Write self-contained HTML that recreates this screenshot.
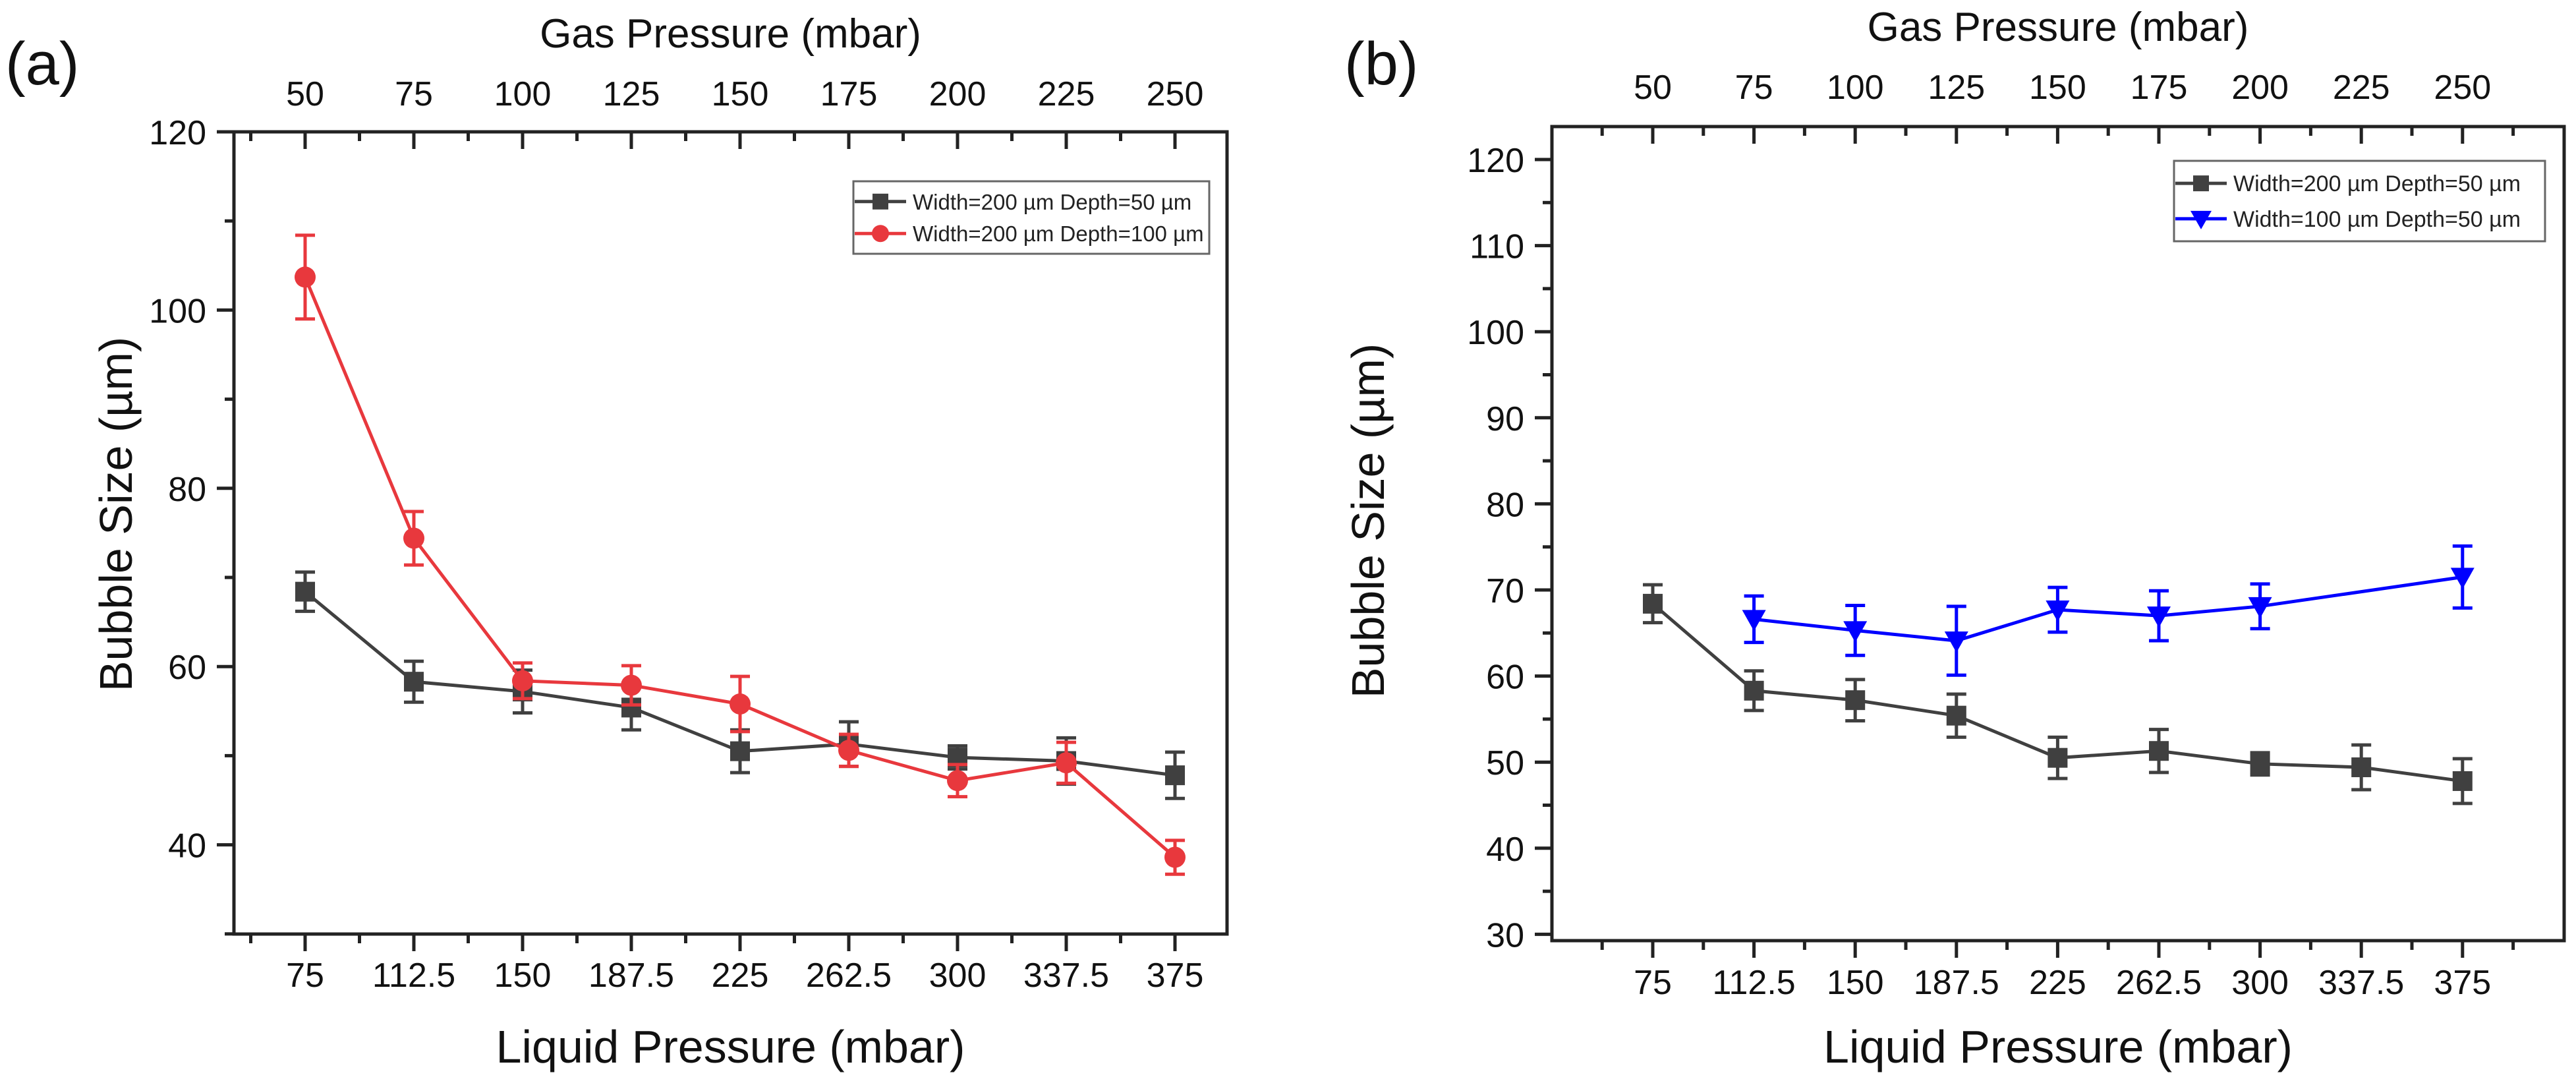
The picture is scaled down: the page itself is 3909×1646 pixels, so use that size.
<!DOCTYPE html>
<html><head><meta charset="utf-8"><style>
html,body{margin:0;padding:0;background:#fff;}
svg{display:block;font-family:"Liberation Sans",Arial,sans-serif;}
</style></head><body>
<svg id="fig" width="3909" height="1646" viewBox="0 0 3909 1646" xmlns="http://www.w3.org/2000/svg">
<text x="8" y="128" font-size="92" fill="#111">(a)</text>
<text x="2040" y="128" font-size="92" fill="#111">(b)</text>
</svg>
<script>
const liquidLabels = ["75","112.5","150","187.5","225","262.5","300","337.5","375"];
const gasLabels = ["50","75","100","125","150","175","200","225","250"];
const grayVals = [68.4,58.3,57.2,55.4,50.5,51.3,49.8,49.4,47.8];
const grayErr = [2.2,2.3,2.4,2.5,2.4,2.5,1.3,2.6,2.6];
const redVals = [103.7,74.4,58.4,57.9,55.8,50.6,47.2,49.2,38.6];
const redErr = [4.7,3.0,2.0,2.2,3.1,1.8,1.8,2.3,1.9];
const blueVals = [null,66.6,65.3,64.1,67.7,67.0,68.1,null,71.5];
const blueErr = [null,2.7,2.9,4.0,2.6,2.9,2.6,null,3.6];
const yTicksA = [40,60,80,100,120];
const yTicksB = [30,40,50,60,70,80,90,100,110,120];

const NS="http://www.w3.org/2000/svg";
const svg=document.getElementById('fig');
function mk(tag,attrs,parent){const e=document.createElementNS(NS,tag);for(const k in attrs)e.setAttribute(k,attrs[k]);(parent||svg).appendChild(e);return e;}

function panel(cfg){
  const g=mk('g',{});
  
  
  const X=i=>cfg.x0+cfg.dx*i;
  const Y=v=>cfg.yTop+(cfg.yMaxV-v)*cfg.ppu;
  const L=cfg.left,R=cfg.right,T=cfg.top,B=cfg.bottom;
  const ax=mk('rect',{x:L,y:T,width:R-L,height:B-T,fill:'none',stroke:'#222','stroke-width':5},g);
  
  
  for(let k=-1;k<=17;k++){
    const i=k/2, x=X(i);
    if(x<L+5||x>R-5)continue;
    const major=k%2===0;
    const len=major?26:14;
    mk('line',{x1:x,y1:B,x2:x,y2:B+len,stroke:'#222','stroke-width':5},g);
    mk('line',{x1:x,y1:T,x2:x,y2:T+len,stroke:'#222','stroke-width':5},g);
  }
  liquidLabels.forEach((s,i)=>{
    const t=mk('text',{x:X(i),y:cfg.botLblY,'font-size':52,'text-anchor':'middle',fill:'#111'},g);
    t.textContent=s;
    
    
  });
  gasLabels.forEach((s,i)=>{
    const t=mk('text',{x:X(i),y:cfg.topLblY,'font-size':52,'text-anchor':'middle',fill:'#111'},g);
    t.textContent=s;
    
    
  });
  for(let v=cfg.minorStart;v<=cfg.yMaxTick;v+=cfg.minorStep){
    const y=Y(v); if(y>B+2||y<T-2)continue;
    const major=cfg.yTicks.includes(v);
    mk('line',{x1:L,y1:y,x2:L-(major?26:14),y2:y,stroke:'#222','stroke-width':5},g);
  }
  cfg.yTicks.forEach(v=>{
    const t=mk('text',{x:L-42,y:Y(v)+19,'font-size':52,'text-anchor':'end',fill:'#111'},g);
    t.textContent=String(v);
    
    
  });
  const xt=mk('text',{x:(L+R)/2,y:1612,'font-size':70,'text-anchor':'middle',fill:'#111'},g);
  xt.textContent='Liquid Pressure (mbar)';
  
  
  const gt=mk('text',{x:(L+R)/2,y:cfg.gasTitleY,'font-size':62,'text-anchor':'middle',fill:'#111'},g);
  gt.textContent='Gas Pressure (mbar)';
  
  
  const yt=mk('text',{x:0,y:0,'font-size':70,'text-anchor':'middle',fill:'#111',transform:`translate(${cfg.yTitleX},${cfg.yTitleY}) rotate(-90)`},g);
  yt.textContent='Bubble Size (µm)';
  
  
  cfg.series.forEach(s=>{
    const sg=mk('g',{},g);
    
    
    let d='';
    s.vals.forEach((v,i)=>{if(v==null)return;d+=(d?'L':'M')+X(i)+' '+Y(v);});
    mk('path',{d:d,fill:'none',stroke:s.color,'stroke-width':5},sg);
    s.vals.forEach((v,i)=>{
      if(v==null)return;
      const x=X(i),e=s.err[i];
      mk('line',{x1:x,y1:Y(v+e),x2:x,y2:Y(v-e),stroke:s.color,'stroke-width':5},sg);
      mk('line',{x1:x-15,y1:Y(v+e),x2:x+15,y2:Y(v+e),stroke:s.color,'stroke-width':5},sg);
      mk('line',{x1:x-15,y1:Y(v-e),x2:x+15,y2:Y(v-e),stroke:s.color,'stroke-width':5},sg);
      let m;
      if(s.marker==='square')m=mk('rect',{x:x-15,y:Y(v)-15,width:30,height:30,fill:s.color},sg);
      else if(s.marker==='circle')m=mk('circle',{cx:x,cy:Y(v),r:16,fill:s.color},sg);
      else m=mk('polygon',{points:`${x-18},${Y(v)-14} ${x+18},${Y(v)-14} ${x},${Y(v)+18}`,fill:s.color},sg);
      
      
    });
  });
  const lg=mk('g',{},g);
  
  
  const lb=cfg.legend;
  mk('rect',{x:lb.x,y:lb.y,width:lb.w,height:lb.h,fill:'#fff',stroke:'#666','stroke-width':3},lg);
  cfg.series.forEach((s,k)=>{
    const cy=lb.y+lb.h*(k===0?0.28:0.72);
    const e=mk('g',{},lg);
    
    
    mk('line',{x1:lb.x+2,y1:cy,x2:lb.x+80,y2:cy,stroke:s.color,'stroke-width':5},e);
    const cx=lb.x+41;
    if(s.marker==='square')mk('rect',{x:cx-12,y:cy-12,width:24,height:24,fill:s.color},e);
    else if(s.marker==='circle')mk('circle',{cx:cx,cy:cy,r:13,fill:s.color},e);
    else mk('polygon',{points:`${cx-16},${cy-12} ${cx+16},${cy-12} ${cx},${cy+16}`,fill:s.color},e);
    const t=mk('text',{x:lb.x+90,y:cy+12,'font-size':lb.fs,fill:'#222'},e);
    t.textContent=s.label;
  });
}

panel({name:'panel-a',left:355,right:1862,top:200,bottom:1417,x0:463,dx:165,
  yTop:200,yMaxV:120,ppu:13.52,yTicks:yTicksA,minorStart:30,minorStep:10,yMaxTick:120,
  botLblY:1497,topLblY:160,gasTitleY:72,yTitleX:200,yTitleY:780,
  legend:{x:1295,y:275,w:540,h:110,fs:33},
  series:[
    {name:'series-w200-d50',vals:grayVals,err:grayErr,color:'#404040',marker:'square',label:'Width=200 µm Depth=50 µm'},
    {name:'series-w200-d100',vals:redVals,err:redErr,color:'#e8383d',marker:'circle',label:'Width=200 µm Depth=100 µm'}]});

panel({name:'panel-b',left:2355,right:3891,top:192,bottom:1427,x0:2508,dx:153.6,
  yTop:242,yMaxV:120,ppu:13.06,yTicks:yTicksB,minorStart:30,minorStep:5,yMaxTick:125,
  botLblY:1508,topLblY:150,gasTitleY:62,yTitleX:2100,yTitleY:790,
  legend:{x:3299,y:244,w:563,h:122,fs:34},
  series:[
    {name:'series-w200-d50',vals:grayVals,err:grayErr,color:'#404040',marker:'square',label:'Width=200 µm Depth=50 µm'},
    {name:'series-w100-d50',vals:blueVals,err:blueErr,color:'#0000ff',marker:'triangle',label:'Width=100 µm Depth=50 µm'}]});
</script>
</body></html>
